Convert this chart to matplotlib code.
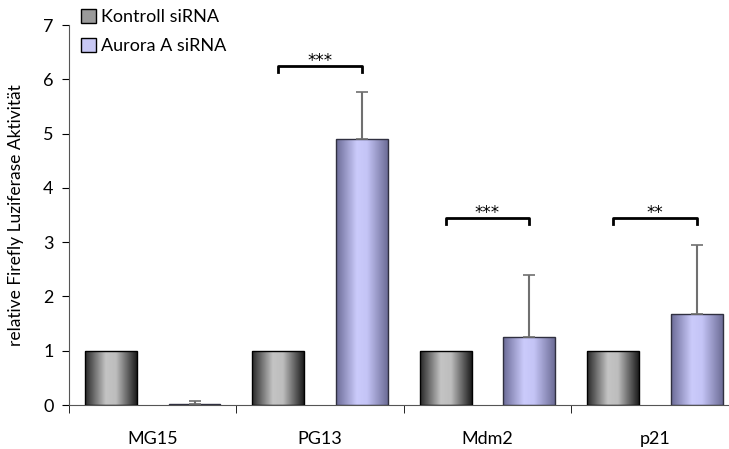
import numpy as np
import matplotlib
matplotlib.use('Agg')
import matplotlib.pyplot as plt
from matplotlib.patches import Patch

plt.rcParams['font.family'] = ['Lato', 'DejaVu Sans']

# data
genes = ['MG15', 'PG13', 'Mdm2', 'p21']
kontroll = [1.0, 1.0, 1.0, 1.0]
aurora = [0.02, 4.9, 1.26, 1.68]
aurora_err = [0.06, 0.87, 1.14, 1.26]
sig_labels = ['', '***', '***', '**']
sig_height = [0, 6.24, 3.44, 3.44]

fig = plt.figure(figsize=(7.29, 4.49), dpi=100)
W, H = 729, 449
# axes goes a little past right edge of the picture, like the original
ax = fig.add_axes([69/W, (H-405)/H, (738.6-69)/W, 380/H])

x = np.arange(len(genes))
bw = 0.31
off = 0.25

bars_k = ax.bar(x - off, kontroll, bw, color='none', edgecolor='black', lw=1, zorder=3)
bars_a = ax.bar(x + off, aurora, bw, color='none', edgecolor='#303040', lw=1, zorder=3)

# horizontal gradients inside the bars
def grad(stops):
    t = np.linspace(0, 1, 64)
    pos, cols = zip(*stops)
    cols = np.array([matplotlib.colors.to_rgb(c) for c in cols])
    img = np.stack([np.interp(t, pos, cols[:, i]) for i in range(3)], axis=-1)
    return img[np.newaxis, :, :]

g_k = grad([(0, '#2a2a2a'), (0.4, '#c4c4c4'), (0.6, '#bdbdbd'), (1, '#1e1e1e')])
g_a = grad([(0, '#6c6c98'), (0.4, '#cbcbfb'), (0.6, '#c4c4f6'), (1, '#6e6e98')])

for bars, g in ((bars_k, g_k), (bars_a, g_a)):
    for b in bars:
        x0, y0 = b.get_x(), b.get_y()
        im = ax.imshow(g, extent=[x0, x0 + b.get_width(), y0, y0 + b.get_height()],
                       aspect='auto', zorder=2, interpolation='bilinear')
        im.set_clip_path(b)

# one sided error bars
ax.errorbar(x + off, aurora, yerr=[np.zeros(len(aurora)), aurora_err], fmt='none',
            ecolor='#707070', elinewidth=1.5, capsize=4, capthick=1.2, zorder=4)

# significance brackets
for i, s in enumerate(sig_labels):
    if not s:
        continue
    h = sig_height[i]
    ax.plot([x[i] - off, x[i] - off, x[i] + off, x[i] + off],
            [h - 0.1, h, h, h - 0.1], color='black', lw=2, zorder=5)
    ax.text(x[i], h - 0.06, s, ha='center', va='bottom', fontsize=12,
            family='DejaVu Sans')

ax.set_xlim(-0.5, 3.5)
ax.set_ylim(0, 7)
ax.set_yticks(range(8))
ax.set_xticks(x)
ax.set_xticklabels(genes)
ax.set_xticks(np.arange(-0.5, 4.0, 1), minor=True)
ax.tick_params(axis='x', which='major', length=0, pad=19, labelsize=13)
ax.tick_params(axis='x', which='minor', length=6, direction='out')
ax.tick_params(axis='y', length=5, direction='out', labelsize=13, pad=6)
for sp in ['top', 'right']:
    ax.spines[sp].set_visible(False)
ax.spines['left'].set_color('#555555')
ax.spines['bottom'].set_color('#555555')

ax.set_ylabel('relative Firefly Luziferase Aktivität', fontsize=12.5, labelpad=14)

handles = [Patch(facecolor='#9a9a9a', edgecolor='black', label='Kontroll siRNA'),
           Patch(facecolor='#c8c8f4', edgecolor='black', label='Aurora A siRNA')]
fig.legend(handles=handles, loc='upper left', bbox_to_anchor=(74/W, 1 - 2/H),
           frameon=False, fontsize=13, handlelength=0.8, handleheight=0.8,
           handletextpad=0.3, labelspacing=0.7, borderaxespad=0)

plt.savefig('out.png', dpi=100)
